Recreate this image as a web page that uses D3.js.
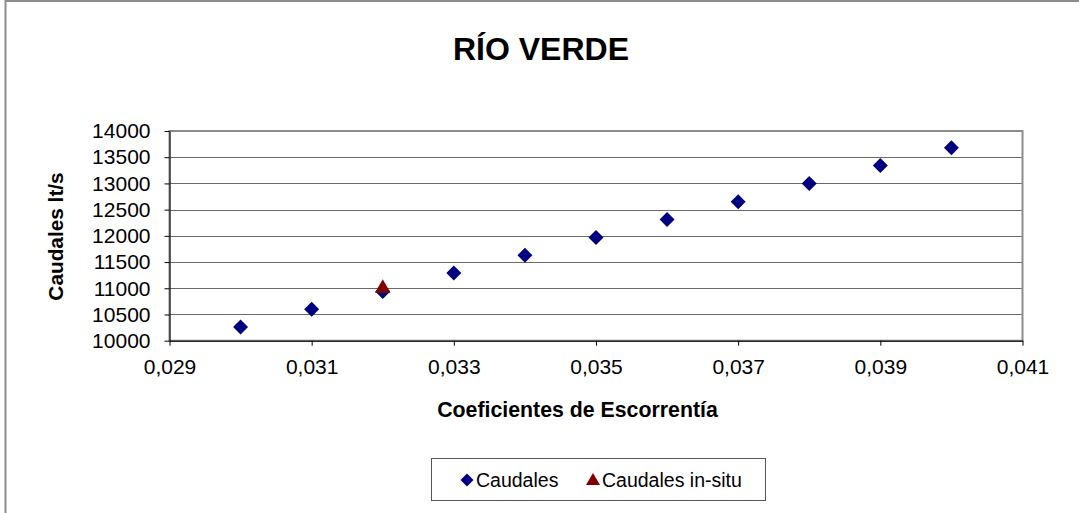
<!DOCTYPE html>
<html>
<head>
<meta charset="utf-8">
<script src="https://cdn.jsdelivr.net/npm/d3@7"></script>
<style>
  body { margin: 0; background: #fff; }
  svg { display: block; font-family: Arial, "Liberation Sans", sans-serif; }
  .grid line { stroke: #6a6a6a; stroke-width: 1; }
  .axis path, .axis line { stroke: #000; }
  .axis text { font-size: 21px; fill: #000; }
</style>
</head>
<body>
<script>
// Data
var coeficientes = [0.030, 0.031, 0.032, 0.033, 0.034, 0.035, 0.036, 0.037, 0.038, 0.039, 0.040];
var caudales = [10260, 10600, 10940, 11290, 11630, 11970, 12310, 12650, 13000, 13340, 13680];
var insituCoef = [0.032];
var insituCaudal = [11000];
var xTicks = [0.029, 0.031, 0.033, 0.035, 0.037, 0.039, 0.041];
var yTicks = [10000, 10500, 11000, 11500, 12000, 12500, 13000, 13500, 14000];
var legendLabels = ['Caudales', 'Caudales in-situ'];

var w = 1079,
    h = 513;

var plot = { left: 169.5, right: 1022.5, top: 131, bottom: 340.7 };

var esLocale = d3.formatLocale({ decimal: ',', thousands: '.', grouping: [3], currency: ['', ''] });
var formatX = esLocale.format('.3f');

var svg = d3.select('body')
            .append('svg')
            .attr('width', w)
            .attr('height', h);

// chart area border
svg.append('rect')
   .attr('x', 5.5)
   .attr('y', 1)
   .attr('width', 1100)
   .attr('height', 600)
   .attr('fill', '#fff')
   .attr('stroke', '#8c8c8c')
   .attr('stroke-width', 2);

// Scales
var xScale = d3.scaleLinear()
               .domain([0.029, 0.041])
               .range([plot.left, plot.right]);

var yScale = d3.scaleLinear()
               .domain([10000, 14000])
               .range([plot.bottom, plot.top]);

// gridlines
svg.append('g')
   .attr('class', 'grid')
   .selectAll('line')
   .data(yTicks)
   .enter()
   .append('line')
   .attr('x1', plot.left)
   .attr('x2', plot.right)
   .attr('y1', function(d) { return Math.round(yScale(d)) + 0.5; })
   .attr('y2', function(d) { return Math.round(yScale(d)) + 0.5; });

// plot frame (grey)
svg.append('rect')
   .attr('x', plot.left)
   .attr('y', plot.top)
   .attr('width', plot.right - plot.left)
   .attr('height', plot.bottom - plot.top)
   .attr('fill', 'none')
   .attr('stroke', '#8c8c8c')
   .attr('stroke-width', 2);

// Axes
var xAxis = d3.axisBottom(xScale)
              .tickValues(xTicks)
              .tickSize(5)
              .tickSizeOuter(0)
              .tickPadding(13)
              .tickFormat(formatX);

var yAxis = d3.axisLeft(yScale)
              .tickValues(yTicks)
              .tickSize(5)
              .tickSizeOuter(0)
              .tickPadding(14)
              .tickFormat(function(d) { return d; });

svg.append('g')
   .attr('class', 'axis')
   .attr('transform', 'translate(0,' + plot.bottom + ')')
   .call(xAxis);

svg.append('g')
   .attr('class', 'axis')
   .attr('transform', 'translate(' + plot.left + ',0)')
   .call(yAxis);

// Markers
var diamond = d3.symbol().type(d3.symbolSquare).size(112);
var triangle = d3.symbol().type(d3.symbolTriangle).size(105);

svg.append('g')
   .selectAll('path')
   .data(coeficientes)
   .enter()
   .append('path')
   .attr('d', diamond)
   .attr('fill', '#000080')
   .attr('transform', function(d, i) {
     return 'translate(' + xScale(d) + ',' + yScale(caudales[i]) + ') rotate(45)';
   });

svg.append('g')
   .selectAll('path')
   .data(insituCoef)
   .enter()
   .append('path')
   .attr('d', triangle)
   .attr('fill', '#800000')
   .attr('transform', function(d, i) {
     return 'translate(' + xScale(d) + ',' + yScale(insituCaudal[i]) + ')';
   });

// Titles
svg.append('text')
   .attr('x', 541)
   .attr('y', 59.5)
   .attr('text-anchor', 'middle')
   .style('font-size', '32px')
   .style('font-weight', 'bold')
   .text('RÍO VERDE');

svg.append('text')
   .attr('x', 577.5)
   .attr('y', 417)
   .attr('text-anchor', 'middle')
   .style('font-size', '21.3px')
   .style('font-weight', 'bold')
   .text('Coeficientes de Escorrentía');

svg.append('text')
   .attr('transform', 'translate(63,236.5) rotate(-90)')
   .attr('text-anchor', 'middle')
   .style('font-size', '20.8px')
   .style('font-weight', 'bold')
   .text('Caudales lt/s');

// Legend
var legend = svg.append('g');

legend.append('rect')
   .attr('x', 431.5)
   .attr('y', 458.5)
   .attr('width', 334)
   .attr('height', 42)
   .attr('fill', '#fff')
   .attr('stroke', '#555')
   .attr('stroke-width', 1);

var legendX = [467, 593];
var items = legend.selectAll('g.item')
   .data(legendLabels)
   .enter()
   .append('g')
   .attr('class', 'item')
   .attr('transform', function(d, i) { return 'translate(' + legendX[i] + ',480)'; });

items.append('path')
   .attr('d', function(d, i) {
     return i === 0 ? d3.symbol().type(d3.symbolSquare).size(85)() : d3.symbol().type(d3.symbolTriangle).size(85)();
   })
   .attr('fill', function(d, i) { return i === 0 ? '#000080' : '#800000'; })
   .attr('transform', function(d, i) { return i === 0 ? 'rotate(45)' : 'translate(0,1)'; });

items.append('text')
   .attr('x', 9)
   .attr('y', 6.5)
   .style('font-size', '19.5px')
   .text(function(d) { return d; });
</script>
</body>
</html>
